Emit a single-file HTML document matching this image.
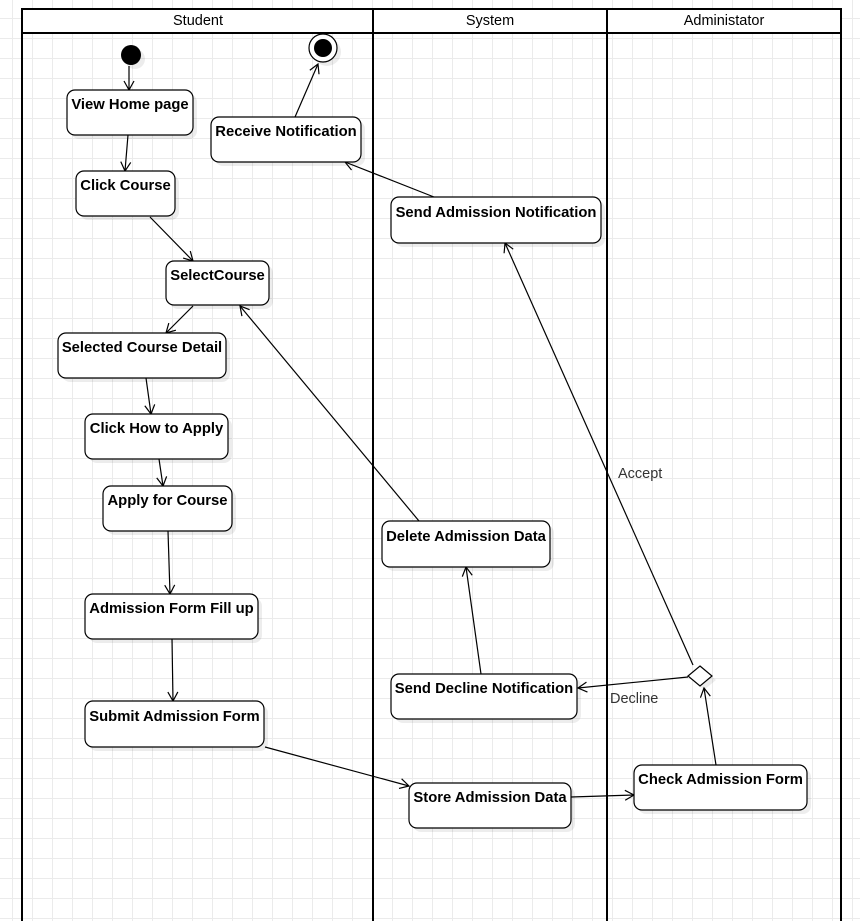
<!DOCTYPE html>
<html><head><meta charset="utf-8">
<style>
html,body{margin:0;padding:0;background:#fff;}
body{width:860px;height:921px;overflow:hidden;
background-image:linear-gradient(to right,#ebebeb 1px,transparent 1px),linear-gradient(to bottom,#ebebeb 1px,transparent 1px);
background-size:20px 20px;background-position:12px 18px;}
svg{position:absolute;left:0;top:0;}
text{font-family:"Liberation Sans",Arial,sans-serif;}
.n{font-weight:bold;font-size:14.8px;text-anchor:middle;}
</style></head><body>
<svg width="860" height="921" viewBox="0 0 860 921">
<defs>
<marker id="a" markerWidth="12" markerHeight="12" refX="10" refY="6" orient="auto" markerUnits="userSpaceOnUse">
<path d="M1,1 L10,6 L1,11" fill="none" stroke="#000" stroke-width="1.2"/></marker>
</defs>
<rect x="22" y="9" width="819" height="930" fill="none" stroke="#000" stroke-width="2"/>
<line x1="22" y1="33" x2="841" y2="33" stroke="#000" stroke-width="2"/>
<line x1="373" y1="9" x2="373" y2="921" stroke="#000" stroke-width="2"/>
<line x1="607" y1="9" x2="607" y2="921" stroke="#000" stroke-width="2"/>
<rect x="23" y="10" width="349" height="22" fill="#fff"/>
<rect x="374" y="10" width="232" height="22" fill="#fff"/>
<rect x="608" y="10" width="232" height="22" fill="#fff"/>
<text x="198" y="25" font-size="14.5" text-anchor="middle">Student</text>
<text x="490" y="25" font-size="14.5" text-anchor="middle">System</text>
<text x="724" y="25" font-size="14.5" text-anchor="middle">Administator</text>

<g fill="#000" opacity="0.07">
<circle cx="135" cy="59" r="10"/>
<circle cx="327" cy="52" r="14"/>
<rect x="71" y="94" width="126" height="45" rx="8"/>
<rect x="215" y="121" width="150" height="45" rx="8"/>
<rect x="80" y="175" width="99" height="45" rx="8"/>
<rect x="395" y="201" width="210" height="46" rx="8"/>
<rect x="170" y="265" width="103" height="44" rx="8"/>
<rect x="62" y="337" width="168" height="45" rx="8"/>
<rect x="89" y="418" width="143" height="45" rx="8"/>
<rect x="107" y="490" width="129" height="45" rx="8"/>
<rect x="386" y="525" width="168" height="46" rx="8"/>
<rect x="89" y="598" width="173" height="45" rx="8"/>
<rect x="395" y="678" width="186" height="45" rx="8"/>
<rect x="89" y="705" width="179" height="46" rx="8"/>
<rect x="413" y="787" width="162" height="45" rx="8"/>
<rect x="638" y="769" width="173" height="45" rx="8"/>
<path d="M704,670 L716,680 L704,690 L692,680 Z"/>
</g>

<g stroke="#000" stroke-width="1.2" fill="none" marker-end="url(#a)">
<line x1="129" y1="66" x2="129" y2="90"/>
<line x1="128" y1="135" x2="125" y2="171"/>
<line x1="150" y1="217" x2="193" y2="261"/>
<line x1="193" y1="306" x2="166" y2="333"/>
<line x1="146" y1="378" x2="151" y2="414"/>
<line x1="159" y1="459" x2="163" y2="486"/>
<line x1="168" y1="531" x2="170" y2="594"/>
<line x1="172" y1="639" x2="173" y2="701"/>
<line x1="265" y1="747" x2="409" y2="786"/>
<line x1="571" y1="797" x2="634" y2="795"/>
<line x1="716" y1="765" x2="704" y2="688"/>
<line x1="688" y1="677" x2="578" y2="688"/>
<line x1="693" y1="665" x2="505" y2="243"/>
<line x1="481" y1="674" x2="466" y2="567"/>
<line x1="419" y1="521" x2="240" y2="306"/>
<line x1="434" y1="197" x2="345" y2="162"/>
<line x1="295" y1="117" x2="318" y2="64"/>
</g>
<text x="610" y="703" font-size="14.5" fill="#333">Decline</text>
<text x="618" y="478" font-size="14.5" fill="#333">Accept</text>

<circle cx="131" cy="55" r="10" fill="#000"/>
<circle cx="323" cy="48" r="14" fill="#fff" stroke="#000" stroke-width="1.2"/>
<circle cx="323" cy="48" r="9" fill="#000"/>
<path d="M700,666 L712,676 L700,686 L688,676 Z" fill="#fff" stroke="#000" stroke-width="1.2"/>

<g fill="#fff" stroke="#000" stroke-width="1.2">
<rect x="67" y="90" width="126" height="45" rx="8"/>
<rect x="211" y="117" width="150" height="45" rx="8"/>
<rect x="76" y="171" width="99" height="45" rx="8"/>
<rect x="391" y="197" width="210" height="46" rx="8"/>
<rect x="166" y="261" width="103" height="44" rx="8"/>
<rect x="58" y="333" width="168" height="45" rx="8"/>
<rect x="85" y="414" width="143" height="45" rx="8"/>
<rect x="103" y="486" width="129" height="45" rx="8"/>
<rect x="382" y="521" width="168" height="46" rx="8"/>
<rect x="85" y="594" width="173" height="45" rx="8"/>
<rect x="391" y="674" width="186" height="45" rx="8"/>
<rect x="85" y="701" width="179" height="46" rx="8"/>
<rect x="409" y="783" width="162" height="45" rx="8"/>
<rect x="634" y="765" width="173" height="45" rx="8"/>
</g>
<g>
<text class="n" x="130" y="109">View Home page</text>
<text class="n" x="286" y="136">Receive Notification</text>
<text class="n" x="125.5" y="190">Click Course</text>
<text class="n" x="496" y="217">Send Admission Notification</text>
<text class="n" x="217.5" y="280">SelectCourse</text>
<text class="n" x="142" y="352">Selected Course Detail</text>
<text class="n" x="156.5" y="433">Click How to Apply</text>
<text class="n" x="167.5" y="505">Apply for Course</text>
<text class="n" x="466" y="541">Delete Admission Data</text>
<text class="n" x="171.5" y="613">Admission Form Fill up</text>
<text class="n" x="484" y="693">Send Decline Notification</text>
<text class="n" x="174.5" y="721">Submit Admission Form</text>
<text class="n" x="490" y="802">Store Admission Data</text>
<text class="n" x="720.5" y="784">Check Admission Form</text>
</g>
</svg>
</body></html>
